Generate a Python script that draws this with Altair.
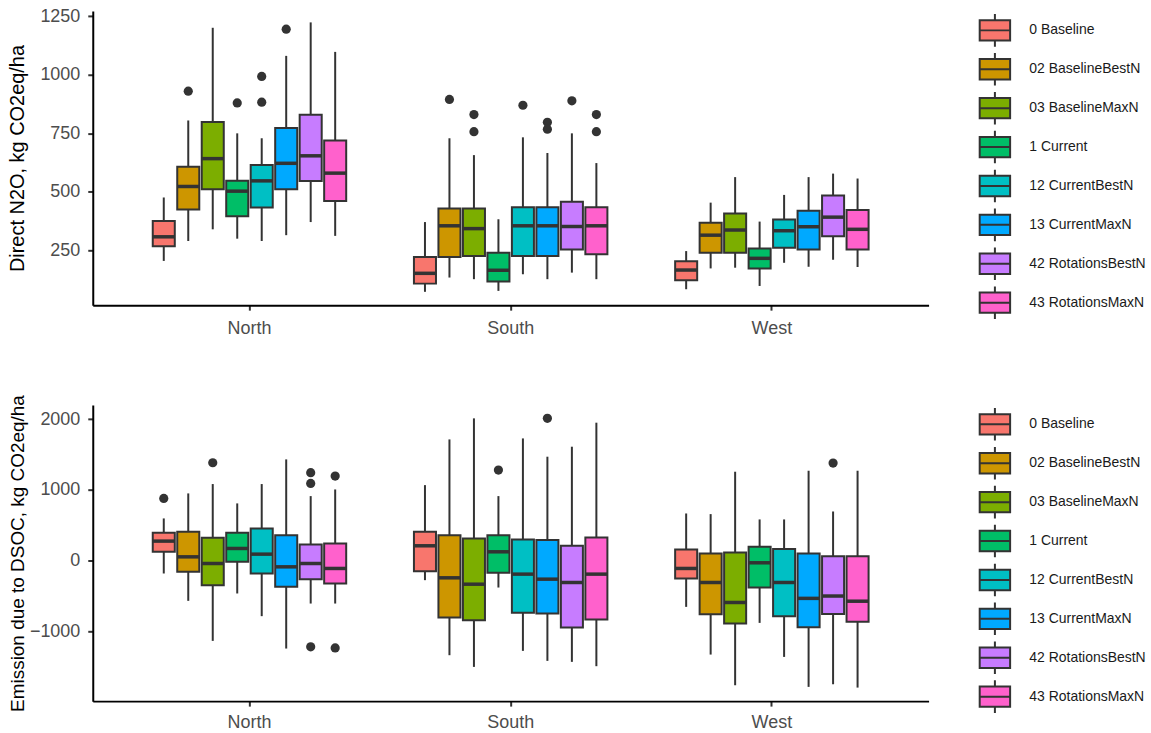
import altair as alt
import pandas as pd

regions = ["North", "South", "West"]
scenarios = ["0 Baseline", "02 BaselineBestN", "03 BaselineMaxN", "1 Current",
             "12 CurrentBestN", "13 CurrentMaxN", "42 RotationsBestN", "43 RotationsMaxN"]
colors = ["#F8766D", "#CD9600", "#7CAE00", "#00BE67", "#00BFC4", "#00A9FF", "#C77CFF", "#FF61CC"]

# ---- Direct N2O (North 8, South 8, West 8) ----
n2o_lo = [205, 290, 340, 300, 290, 315, 371, 312,
          73, 134, 127, 77, 148, 127, 155, 127,
          84, 173, 176, 98, 197, 180, 210, 179]
n2o_q1 = [268, 425, 511, 396, 433, 511, 546, 461,
          108, 222, 226, 117, 226, 226, 254, 233,
          122, 240, 240, 173, 261, 254, 310, 254]
n2o_med = [308, 523, 642, 503, 547, 622, 654, 580,
           152, 355, 343, 165, 355, 355, 352, 355,
           166, 315, 337, 216, 334, 351, 392, 340]
n2o_q3 = [376, 607, 798, 547, 615, 773, 829, 719,
          222, 429, 429, 240, 434, 434, 458, 434,
          204, 368, 408, 258, 382, 419, 484, 423]
n2o_hi = [476, 805, 1201, 750, 729, 1081, 1224, 1098,
          371, 729, 657, 383, 733, 666, 750, 623,
          247, 454, 563, 373, 487, 563, 578, 557]
n2o_out_region = ["North", "North", "North", "North", "North",
                  "South", "South", "South", "South", "South", "South", "South", "South", "South"]
n2o_out_scen = ["02 BaselineBestN", "1 Current", "12 CurrentBestN", "12 CurrentBestN", "13 CurrentMaxN",
                "02 BaselineBestN", "03 BaselineMaxN", "03 BaselineMaxN", "12 CurrentBestN",
                "13 CurrentMaxN", "13 CurrentMaxN", "42 RotationsBestN", "43 RotationsMaxN", "43 RotationsMaxN"]
n2o_out_value = [930, 880, 993, 883, 1195,
                 895, 830, 757, 870, 797, 768, 889, 830, 757]

# ---- Emission due to DSOC ----
soc_lo = [-179, -565, -1130, -461, -781, -1238, -603, -603,
          -273, -1332, -1497, -377, -1271, -1412, -1426, -1487,
          -650, -1323, -1756, -876, -1356, -1779, -1742, -1789]
soc_q1 = [127, -155, -344, -14, -179, -367, -259, -320,
          -146, -800, -838, -169, -734, -744, -941, -828,
          -249, -753, -885, -377, -781, -936, -751, -861]
soc_med = [278, 56, -38, 174, 94, -85, -38, -108,
           212, -240, -330, 127, -188, -259, -306, -188,
           -108, -306, -588, -28, -306, -530, -497, -570]
soc_q3 = [395, 410, 325, 395, 457, 362, 231, 245,
          410, 362, 315, 362, 301, 292, 212, 329,
          160, 104, 118, 198, 165, 104, 66, 66]
soc_hi = [598, 951, 1083, 810, 1083, 1431, 913, 1007,
          1068, 1713, 2010, 913, 1727, 1469, 1610, 1949,
          668, 659, 1257, 584, 584, 1271, 696, 1271]
soc_out_region = ["North", "North", "North", "North", "North", "North", "North",
                  "South", "South", "West"]
soc_out_scen = ["0 Baseline", "03 BaselineMaxN", "42 RotationsBestN", "42 RotationsBestN",
                "42 RotationsBestN", "43 RotationsMaxN", "43 RotationsMaxN",
                "1 Current", "13 CurrentMaxN", "42 RotationsBestN"]
soc_out_value = [880, 1384, 1243, 1092, -1214, 1196, -1229, 1280, 2010, 1379]

n2o_ticks = [250, 500, 750, 1000, 1250]
soc_ticks = [-1000, 0, 1000, 2000]

LEGEND_PATH = "M-1,-0.67H1V0.67H-1Z M-1,0H1 M0,-0.67V-1.07 M0,0.67V1.07"
FONT = "Liberation Sans"
DARK = "#333333"


def box_table(lo, q1, med, q3, hi):
    rows = []
    i = 0
    for r in regions:
        for s in scenarios:
            rows.append({"region": r, "scenario": s, "lo": lo[i], "q1": q1[i],
                         "med": med[i], "q3": q3[i], "hi": hi[i]})
            i += 1
    return pd.DataFrame(rows)


def out_table(reg, scen, val):
    return pd.DataFrame({"region": reg, "scenario": scen, "value": val})


def panel(box, out, title, domain, ticks, width, height, legend_x, legend_y,
          title_size, title_x, xlab_pad):
    xs = alt.X("region:N",
               scale=alt.Scale(domain=regions, paddingInner=0.25, paddingOuter=0.225),
               axis=alt.Axis(title=None, labelAngle=0, labelPadding=xlab_pad))
    xo = alt.XOffset("scenario:N",
                     scale=alt.Scale(domain=scenarios, paddingInner=0.1, paddingOuter=0.05))
    ysc = alt.Scale(domain=domain, nice=False, zero=False)
    yax = alt.Axis(title=title, values=ticks, format="d", labelPadding=8,
                   titleFontSize=title_size, titleX=title_x, titleY=height / 2,
                   titleBaseline="middle", titleAlign="center")

    def Y(field):
        return alt.Y(field, scale=ysc, axis=yax, title=title)

    base = alt.Chart(box)
    whisk = base.mark_rule(color=DARK, strokeWidth=2).encode(
        x=xs, xOffset=xo, y=Y("lo:Q"), y2="hi:Q")
    bars = base.mark_bar(stroke=DARK, strokeWidth=2, opacity=1).encode(
        x=xs, xOffset=xo, y=Y("q1:Q"), y2="q3:Q",
        color=alt.Color("scenario:N",
                        scale=alt.Scale(domain=scenarios, range=colors),
                        legend=alt.Legend(title=None, orient="none",
                                          legendX=legend_x, legendY=legend_y,
                                          symbolType=LEGEND_PATH, symbolSize=930,
                                          symbolStrokeColor=DARK, symbolStrokeWidth=2,
                                          symbolOpacity=1,
                                          labelFontSize=14, labelColor="#1a1a1a",
                                          labelFont=FONT, labelOffset=18,
                                          rowPadding=-2, labelLimit=300)))
    med = base.mark_tick(color=DARK, thickness=3.5, size=22, opacity=1).encode(
        x=xs, xOffset=xo, y=Y("med:Q"))
    pts = alt.Chart(out).mark_circle(color=DARK, size=85, opacity=1).encode(
        x=xs, xOffset=xo, y=Y("value:Q"))
    return alt.layer(whisk, bars, med, pts).properties(width=width, height=height)


top = panel(box_table(n2o_lo, n2o_q1, n2o_med, n2o_q3, n2o_hi),
            out_table(n2o_out_region, n2o_out_scen, n2o_out_value),
            "Direct N2O, kg CO2eq/ha", [16, 1273], n2o_ticks, 838, 295, 888, 3,
            20, -75, 9)
bottom = panel(box_table(soc_lo, soc_q1, soc_med, soc_q3, soc_hi),
               out_table(soc_out_region, soc_out_scen, soc_out_value),
               "Emission due to DSOC, kg CO2eq/ha", [-1980, 2200], soc_ticks, 838, 297, 888, 3,
               19, -75, 7)

chart = alt.concat(top, bottom, columns=1, spacing=57).resolve_scale(
    color="independent", x="independent", y="independent"
).properties(
    padding={"left": 8, "top": 6, "right": 5, "bottom": 0}
).configure(font=FONT).configure_axis(
    domainColor="black", domainWidth=2, tickColor=DARK, tickWidth=2, tickSize=5,
    labelColor="#4D4D4D", labelFontSize=18, titleColor="black",
    titleFontWeight="normal", grid=False, labelFont=FONT, titleFont=FONT
).configure_view(stroke=None)

chart.save("out.html", embed_options={"renderer": "svg", "actions": False})
